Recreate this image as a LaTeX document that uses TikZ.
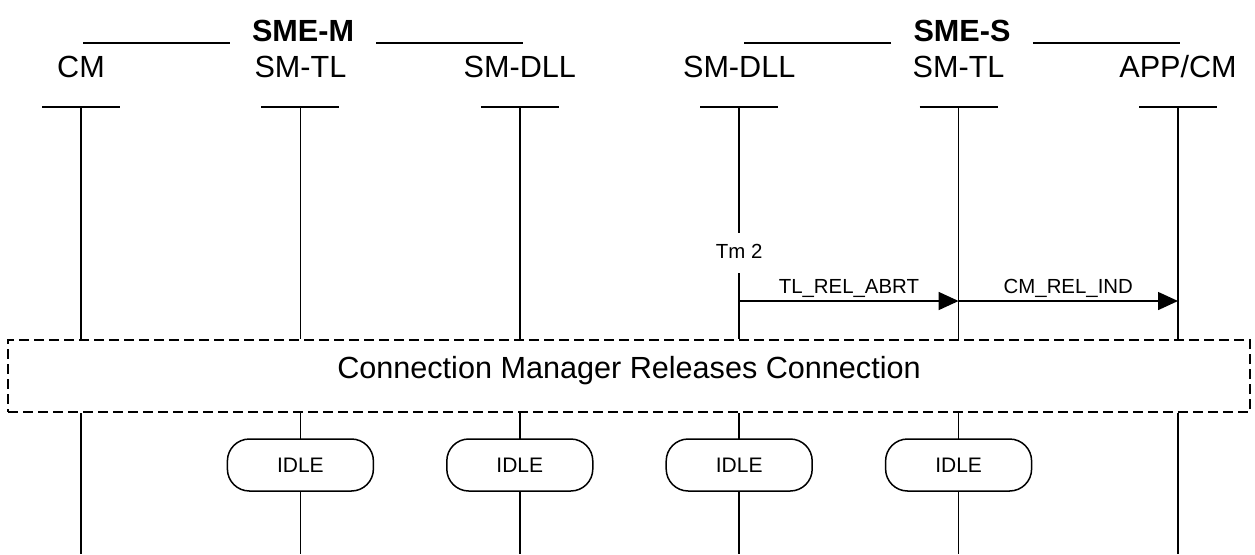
\documentclass[tikz,border=0pt]{standalone}
\usepackage{fontspec}
\setmainfont{Liberation Sans}
\usetikzlibrary{arrows.meta,positioning,calc}
\tikzset{
  head/.style={font=\fontsize{15.3}{18}\selectfont, anchor=base, inner sep=0pt},
  group/.style={font=\fontsize{15.3}{18}\selectfont\bfseries, anchor=base,
    inner xsep=11pt, inner ysep=0pt},
  life/.style={line width=0.75pt},
  msg/.style={-{Triangle[length=10pt, width=9pt]}, line width=0.75pt},
  lbl/.style={font=\fontsize{10.2}{12}\selectfont, anchor=base, inner sep=0pt},
  idle/.style={rectangle, rounded corners=11pt, draw, line width=0.75pt,
    fill=white, minimum width=73pt, minimum height=26pt, inner sep=0pt,
    font=\fontsize{10.5}{12}\selectfont},
  frame/.style={draw, line width=1pt, dash pattern=on 5pt off 2.5pt,
    minimum width=621pt, minimum height=36pt},
}
\begin{document}
\begin{tikzpicture}[x=0.5pt, y=-0.5pt]
  \useasboundingbox (0,0) rectangle (1255,554);
  % -- rows ------------------------------------------------------------
  \coordinate (top) at (0,107);
  \coordinate (bot) at (0,554);
  \coordinate (m1)  at (0,301);
  \coordinate (idl) at (0,465);
  % -- group titles ----------------------------------------------------
  \node[group] (smem) at (303,41) {SME-M};
  \node[group] (smes) at (962,41) {SME-S};
  \draw[life] ($(smem.base west)+(0,2)$) -- ++(-147,0);
  \draw[life] ($(smem.base east)+(0,2)$) -- ++(147,0);
  \draw[life] ($(smes.base west)+(0,2)$) -- ++(-147,0);
  \draw[life] ($(smes.base east)+(0,2)$) -- ++(147,0);
  % -- instance heads --------------------------------------------------
  \node[head] (cm)   at (81,77)    {CM};
  \node[head] (mtl)  at (300.4,77) {SM-TL};
  \node[head] (mdll) at (519.8,77) {SM-DLL};
  \node[head] (sdll) at (739.2,77) {SM-DLL};
  \node[head] (stl)  at (958.6,77) {SM-TL};
  \node[head] (app)  at (1178,77)  {APP/CM};
  % -- condition box ---------------------------------------------------
  \node[frame] (rel) at (629,376) {};
  \node[head] (reltxt) at ($(rel.center)+(0,2)$) {Connection Manager Releases Connection};
  % timer label on SM-DLL (SME-S)
  \node[lbl, inner ysep=5pt, text depth=2.5pt] (tm) at (sdll |- 0,258) {Tm 2};
  % -- lifelines -------------------------------------------------------
  \draw[life] ($(cm|-top)+(-39,0)$) -- ($(cm|-top)+(39,0)$)
    (cm|-top) -- (cm|-rel.north) (cm|-rel.south) -- (cm|-bot);
  \draw[life] ($(mtl|-top)+(-39,0)$) -- ($(mtl|-top)+(39,0)$)
    (mtl|-top) -- (mtl|-rel.north) (mtl|-rel.south) -- (mtl|-bot);
  \draw[life] ($(mdll|-top)+(-39,0)$) -- ($(mdll|-top)+(39,0)$)
    (mdll|-top) -- (mdll|-rel.north) (mdll|-rel.south) -- (mdll|-bot);
  \draw[life] ($(sdll|-top)+(-39,0)$) -- ($(sdll|-top)+(39,0)$)
    (sdll|-top) -- (tm.north) (tm.south) -- (sdll|-rel.north)
    (sdll|-rel.south) -- (sdll|-bot);
  \draw[life] ($(stl|-top)+(-39,0)$) -- ($(stl|-top)+(39,0)$)
    (stl|-top) -- (stl|-rel.north) (stl|-rel.south) -- (stl|-bot);
  \draw[life] ($(app|-top)+(-39,0)$) -- ($(app|-top)+(39,0)$)
    (app|-top) -- (app|-rel.north) (app|-rel.south) -- (app|-bot);
  % -- messages --------------------------------------------------------
  \draw[msg] (sdll|-m1) -- (stl|-m1) node[lbl, midway, yshift=4pt] {TL\_REL\_ABRT};
  \draw[msg] (stl|-m1) -- (app|-m1) node[lbl, midway, yshift=4pt] {CM\_REL\_IND};
  % -- idle states -----------------------------------------------------
  \node[idle] (idle1) at (mtl|-idl)  {IDLE};
  \node[idle] (idle2) at (mdll|-idl) {IDLE};
  \node[idle] (idle3) at (sdll|-idl) {IDLE};
  \node[idle] (idle4) at (stl|-idl)  {IDLE};
\end{tikzpicture}
\end{document}
